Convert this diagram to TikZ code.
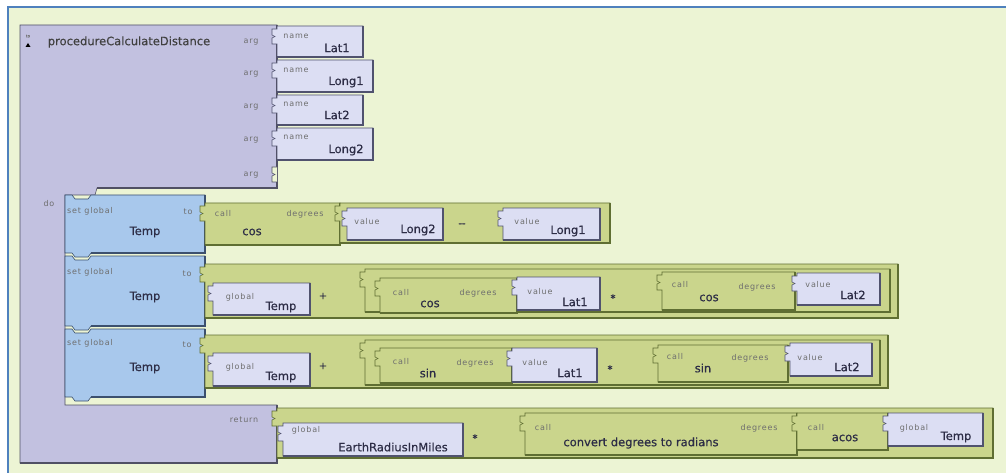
\documentclass[tikz,border=0pt]{standalone}
\usepackage{fontspec}
\setmainfont{DejaVu Sans}
\newfontfamily\smallfam[LetterSpace=10]{DejaVu Sans}
\newfontfamily\wordfam[FakeBold=0.6]{DejaVu Sans}
\newfontfamily\titlefam[FakeBold=0.3]{DejaVu Sans}

\definecolor{bgC}{RGB}{236,244,212}
\definecolor{frameC}{RGB}{79,129,189}
\definecolor{procC}{RGB}{194,193,224}
\definecolor{procD}{RGB}{80,80,100}
\definecolor{setC}{RGB}{168,200,236}
\definecolor{setD}{RGB}{60,80,110}
\definecolor{grnC}{RGB}{202,213,140}
\definecolor{grnD}{RGB}{95,110,50}
\definecolor{valC}{RGB}{220,222,243}
\definecolor{valD}{RGB}{80,82,110}
\definecolor{smC}{RGB}{110,110,110}
\definecolor{wordC}{RGB}{45,45,70}

\tikzset{
  proc/.style={fill=procC, draw=procD, line width=0.6pt},
  proc edge/.style={draw=procD, line width=1.6pt},
  setb/.style={fill=setC, draw=setD, line width=0.6pt},
  setb edge/.style={draw=setD, line width=1.6pt},
  grn/.style={fill=grnC, draw=grnD, line width=0.6pt},
  grn edge/.style={draw=grnD, line width=1.6pt},
  val/.style={fill=valC, draw=valD, line width=0.6pt},
  val edge/.style={draw=valD, line width=1.6pt},
  lbl/.style={font=\smallfam\fontsize{8}{9}\selectfont, text=smC, inner sep=0pt},
  word/.style={font=\wordfam\fontsize{11.5}{12}\selectfont, text=wordC, inner sep=0pt},
  op/.style={font=\wordfam\fontsize{10}{11}\selectfont, text=wordC, inner sep=0pt},
}

% block with a plug on its left side: x1 y1 x2 y2 style
\newcommand\blk[5]{%
  \path[#5] (#1,#2) -- (#3,#2) -- (#3,#4) -- (#1,#4) -- (#1,{#2+18})
    -- ({#1-5},{#2+18}) -- ({#1-5},{#2+12}) -- ({#1-2},{#2+10.5})
    -- ({#1-5},{#2+9}) -- ({#1-5},{#2+3}) -- (#1,{#2+3}) -- cycle;
  \draw[#5 edge] (#1,#4) -- (#3,#4) -- (#3,#2);
}
% statement block with notch on top and tab below: top bottom
\newcommand\stmt[2]{%
  \path[setb] (65,#1) -- (72,#1) -- (75,{#1+4}) -- (88,{#1+4}) -- (91,#1)
    -- (205,#1) -- (205,#2) -- (91,#2) -- (88,{#2+4}) -- (75,{#2+4})
    -- (72,#2) -- (65,#2) -- cycle;
  \draw[setb edge] (91,#2) -- (205,#2) -- (205,#1);
}

\begin{document}
\begin{tikzpicture}[x=1pt,y=-1pt]
\useasboundingbox (0,0) rectangle (1006,473);
\fill[white] (0,0) rectangle (1006,473);
\fill[bgC] (8,7) rectangle (1006,473);
\draw[frameC, line width=2pt] (8,473) -- (8,7) -- (1006,7);

% procedure frame
\path[proc] (20,25) -- (277,25) -- (277,188) -- (97,188) -- (95,195) -- (65,195)
  -- (65,405) -- (277,405) -- (277,463) -- (20,463) -- cycle;
\draw[proc edge] (97,188) -- (277,188) -- (277,25);
\draw[proc edge] (20,463) -- (277,463) -- (277,405);
% empty argument socket
\path[fill=bgC, draw=procD, line width=0.6pt] (277,167) -- (272,167) -- (272,173)
  -- (275,174.5) -- (272,176) -- (272,182) -- (277,182);

% collapse icon and title
\node[font=\wordfam\fontsize{4}{4}\selectfont, text=smC, inner sep=0pt] (icon) at (28,36) {to};
\fill[black] (25.5,47) -- (30.5,47) -- (28,43) -- cycle;
\node[font=\titlefam\fontsize{11.5}{12}\selectfont, text=black!75, inner sep=0pt] (title) at (129,42) {procedureCalculateDistance};

% arguments
\foreach \yy [count=\i] in {42,74,107,140,175} {
  \node[lbl] (arg\i) at (251,\yy) {arg};
}
\blk{277}{26}{363}{57}{val}
\blk{277}{60}{373}{92}{val}
\blk{277}{95}{363}{125}{val}
\blk{277}{128}{373}{160}{val}
\node[lbl] (nm1) at (296,36) {name};
\node[lbl] (nm2) at (296,70) {name};
\node[lbl] (nm3) at (296,104) {name};
\node[lbl] (nm4) at (296,137) {name};
\node[word] (pLat1) at (337,48) {Lat1};
\node[word] (pLong1) at (346,82) {Long1};
\node[word] (pLat2) at (337,115) {Lat2};
\node[word] (pLong2) at (346,150) {Long2};

\node[lbl] (do) at (49,204) {do};

% set global statements
\stmt{195}{253}
\stmt{256}{326}
\stmt{329}{397}
\node[lbl] (sg1) at (90,211) {set global};
\node[lbl] (to1) at (188,212) {to};
\node[word] (tp1) at (145,232) {Temp};
\node[lbl] (sg2) at (90,272) {set global};
\node[lbl] (to2) at (187,274) {to};
\node[word] (tp2) at (145,297) {Temp};
\node[lbl] (sg3) at (90,343) {set global};
\node[lbl] (to3) at (187,345) {to};
\node[word] (tp3) at (145,368) {Temp};

% row 1: cos(Long2 - Long1)
\blk{205}{203}{340}{245}{grn}
\blk{340}{203}{610}{243}{grn}
\blk{347}{208}{443}{240}{val}
\blk{503}{208}{600}{240}{val}
\node[lbl] (c1) at (223,214) {call};
\node[word] (cos1) at (252,232) {cos};
\node[lbl] (d1) at (305,214) {degrees};
\node[lbl] (v1) at (367,222) {value};
\node[word] (l2a) at (418,230) {Long2};
\node[op] (minus) at (462,225) {--};
\node[lbl] (v2) at (527,222) {value};
\node[word] (l1a) at (568,231) {Long1};

% row 2: Temp + cos(Lat1) * cos(Lat2)
\blk{205}{264}{898}{318}{grn}
\blk{213}{283}{310}{315}{val}
\blk{365}{269}{890}{312}{grn}
\blk{380}{278}{517}{313}{grn}
\blk{517}{277}{600}{310}{val}
\blk{662}{272}{795}{310}{grn}
\blk{797}{273}{880}{305}{val}
\node[lbl] (g2) at (240,297) {global};
\node[word] (tpb) at (281,307) {Temp};
\node[op] (plus2) at (323,296) {+};
\node[lbl] (c2) at (401,293) {call};
\node[word] (cos2) at (430,304) {cos};
\node[lbl] (d2) at (478,293) {degrees};
\node[lbl] (v3) at (540,292) {value};
\node[word] (la2) at (575,302) {Lat1};
\node[op] (mul2) at (613,298) {*};
\node[lbl] (c3) at (680,285) {call};
\node[word] (cos3) at (709,298) {cos};
\node[lbl] (d3) at (757,287) {degrees};
\node[lbl] (v4) at (818,285) {value};
\node[word] (lb2) at (853,295) {Lat2};

% row 3: Temp + sin(Lat1) * sin(Lat2)
\blk{205}{335}{888}{388}{grn}
\blk{213}{353}{310}{386}{val}
\blk{365}{340}{880}{385}{grn}
\blk{380}{348}{512}{383}{grn}
\blk{512}{348}{597}{382}{val}
\blk{658}{345}{788}{382}{grn}
\blk{790}{343}{872}{376}{val}
\node[lbl] (g3) at (240,367) {global};
\node[word] (tpc) at (281,377) {Temp};
\node[op] (plus3) at (323,366) {+};
\node[lbl] (c4) at (401,362) {call};
\node[word] (sin1) at (428,373) {sin};
\node[lbl] (d4) at (475,363) {degrees};
\node[lbl] (v5) at (535,363) {value};
\node[word] (la3) at (570,373) {Lat1};
\node[op] (mul3) at (610,369) {*};
\node[lbl] (c5) at (675,357) {call};
\node[word] (sin2) at (703,368) {sin};
\node[lbl] (d5) at (750,358) {degrees};
\node[lbl] (v6) at (810,358) {value};
\node[word] (lb3) at (847,367) {Lat2};

% return row
\node[lbl] (ret) at (244,420) {return};
\blk{277}{408}{993}{458}{grn}
\blk{283}{423}{463}{456}{val}
\blk{525}{413}{797}{455}{grn}
\blk{797}{413}{888}{450}{grn}
\blk{888}{413}{983}{446}{val}
\node[lbl] (g4) at (306,430) {global};
\node[word] (earth) at (393,447) {EarthRadiusInMiles};
\node[op] (mul4) at (475,438) {*};
\node[lbl] (c6) at (543,428) {call};
\node[word] (conv) at (641,443) {convert degrees to radians};
\node[lbl] (d6) at (759,428) {degrees};
\node[lbl] (c7) at (816,428) {call};
\node[word] (acos) at (845,438) {acos};
\node[lbl] (g5) at (914,428) {global};
\node[word] (tpd) at (956,437) {Temp};
\end{tikzpicture}
\end{document}
